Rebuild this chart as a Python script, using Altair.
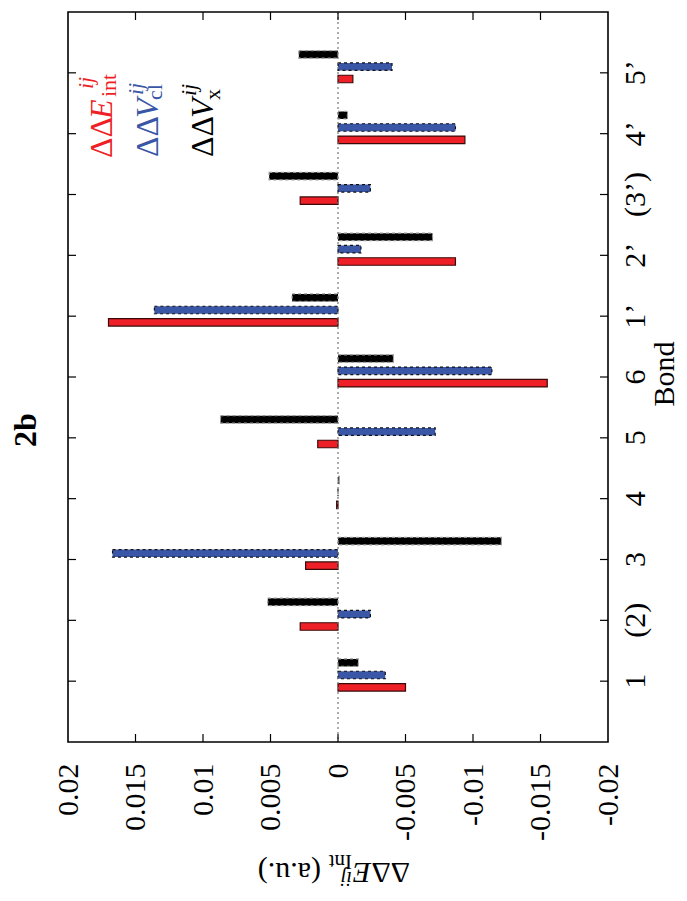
import altair as alt
import pandas as pd

# ---------------- data ----------------
bonds = ["1", "(2)", "3", "4", "5", "6", "1’", "2’", "(3’)", "4’", "5’"]
dde_int = [-0.0050, 0.0028, 0.0024, 0.0001, 0.0015, -0.0155, 0.0170, -0.0087, 0.0028, -0.0094, -0.0011]
ddv_cl = [-0.0035, -0.0024, 0.0167, 0.0000, -0.0072, -0.0114, 0.0136, -0.0017, -0.0024, -0.0087, -0.0040]
ddv_x = [-0.0015, 0.0052, -0.0121, -0.0001, 0.0087, -0.0041, 0.0034, -0.0070, 0.0051, -0.0007, 0.0029]
value_ticks = [0.02, 0.015, 0.01, 0.005, 0, -0.005, -0.01, -0.015, -0.02]

rows = []
for i, b in enumerate(bonds):
    rows.append({"bond": b, "series": "int", "value": dde_int[i]})
    rows.append({"bond": b, "series": "cl", "value": ddv_cl[i]})
    rows.append({"bond": b, "series": "x", "value": ddv_x[i]})
df = pd.DataFrame(rows)
bond_df = pd.DataFrame({"bond": bonds})
tick_df = pd.DataFrame({"value": value_ticks[1:-1]})
zero_df = pd.DataFrame({"value": [0]})
one = pd.DataFrame({"k": [0]})

W, H = 540, 730
FONT = "Liberation Serif"
y_order = bonds[::-1]

x_scale = alt.Scale(domain=[-0.02, 0.02], reverse=True, nice=False)
y_scale = alt.Scale(domain=y_order, paddingInner=0, paddingOuter=0.5)
off_scale = alt.Scale(domain=["x", "cl", "int", "gap"], paddingInner=0.39, paddingOuter=0.668)

x_axis = alt.Axis(values=value_ticks, labelExpr="'' + datum.value", labelAngle=270,
                  labelAlign="right", labelBaseline="middle", labelPadding=21,
                  ticks=False, domain=False, grid=False, title=None,
                  labelFont=FONT, labelFontSize=30, labelColor="black")
y_axis = alt.Axis(orient="right", labelAngle=270, labelAlign="center", labelBaseline="top",
                  labelPadding=12, ticks=False, domain=False, grid=False, title=None,
                  labelFont=FONT, labelFontSize=30, labelColor="black")


def xq():
    return alt.X("value:Q", scale=x_scale, axis=x_axis)


def yb():
    return alt.Y("bond:N", scale=y_scale, sort=y_order, axis=y_axis)


series_style = {
    "int": dict(color="#ee1f26", stroke="#3a0a0a", strokeWidth=1.2),
    "cl": dict(color="#3a56a6", stroke="#111111", strokeWidth=1.2, strokeDash=[3, 3]),
    "x": dict(color="#000000", stroke="#9a9a9a", strokeWidth=1.2, strokeDash=[3, 3]),
}

layers = []
for s in ["int", "cl", "x"]:
    st = series_style[s]
    bar = alt.Chart(df).transform_filter(alt.datum.series == s).mark_bar(**st).encode(
        x=xq(),
        x2=alt.X2(datum=0),
        y=yb(),
        yOffset=alt.YOffset("series:N", scale=off_scale),
    )
    layers.append(bar)

zero_line = alt.Chart(zero_df).mark_rule(color="#777777", strokeWidth=1.2, strokeDash=[2, 3]).encode(
    x=xq(), y=alt.value(0), y2=alt.value(H))
layers.append(zero_line)

# inside ticks (mirrored on all four sides)
for x0, x1 in [(0, 8), (W - 8, W)]:
    layers.append(alt.Chart(bond_df).mark_rule(color="black", strokeWidth=1.2).encode(
        y=yb(), x=alt.value(x0), x2=alt.value(x1)))
for y0, y1 in [(0, 8), (H - 8, H)]:
    layers.append(alt.Chart(tick_df).mark_rule(color="black", strokeWidth=1.2).encode(
        x=xq(), y=alt.value(y0), y2=alt.value(y1)))


def txt(s, x, y, size, color="black", angle=270, align="left", baseline="alphabetic",
        style="normal", weight="normal"):
    return alt.Chart(one).mark_text(text=s, angle=angle, align=align, baseline=baseline,
                                    fontSize=size, font=FONT, fontStyle=style,
                                    fontWeight=weight, color=color).encode(
        x=alt.value(x), y=alt.value(y))


RED, BLUE = "#ee1f26", "#3a56a6"
# legend (rotated)
layers += [
    txt("ΔΔ", 44, 146, 32, RED),
    txt("E", 44, 107, 32, RED, style="italic"),
    txt("int", 48, 85, 22, RED),
    txt("ij", 25, 77, 22, RED, style="italic"),
    txt("ΔΔ", 90, 145, 32, BLUE),
    txt("V", 90, 106, 32, BLUE, style="italic"),
    txt("cl", 94, 88, 22, BLUE),
    txt("ij", 75, 83, 22, BLUE, style="italic"),
    txt("ΔΔ", 145, 145, 32),
    txt("V", 145, 106, 32, style="italic"),
    txt("x", 152, 88, 22),
    txt("ij", 128, 84, 22, style="italic"),
]
# panel label and axis titles
layers += [
    txt("2b", -42, 418, 32, weight="bold", align="center", baseline="middle"),
    txt("Bond", 582, 362, 30, align="center", baseline="top"),
    txt("ΔΔ", 342, 851, 30, angle=180),
    txt("E", 303, 851, 30, angle=180, style="italic"),
    txt("Int", 284, 843, 21, angle=180),
    txt("ij", 284, 860, 21, angle=180, style="italic"),
    txt("(a.u.)", 253, 851, 30, angle=180),
]

chart = alt.layer(*layers).properties(
    width=W, height=H, autosize="none",
    padding={"left": 60, "top": 4, "right": 71, "bottom": 151},
).configure_view(stroke="black", strokeWidth=1.6)

chart.save("out.html", embed_options={"renderer": "svg", "actions": False})
